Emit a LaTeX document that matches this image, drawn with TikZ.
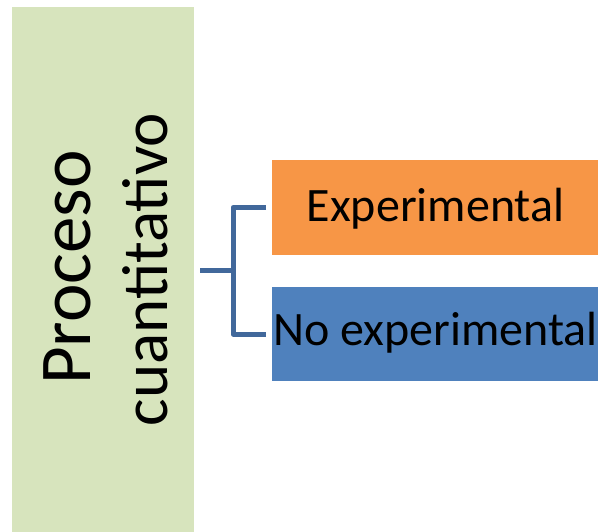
\documentclass[tikz,border=0pt]{standalone}
\usepackage{fontspec}
\setmainfont{Carlito}
\definecolor{gfill}{HTML}{D7E4BD}
\definecolor{ofill}{HTML}{F79646}
\definecolor{bfill}{HTML}{4F81BD}
\definecolor{brcol}{HTML}{41689B}
\tikzset{
  box/.style={draw=none, inner sep=0pt, outer sep=0pt},
  br/.style={draw=brcol, line width=5pt, line join=round},
  big/.style={font=\fontsize{48}{56}\selectfont, inner sep=0pt},
  vert/.style={font=\fontsize{73}{80}\selectfont, inner sep=0pt, rotate=90, anchor=base},
}
\begin{document}
\begin{tikzpicture}[x=1pt,y=-1pt]
\useasboundingbox (0,0) rectangle (600,532);
\node[box, fill=gfill, minimum width=182pt, minimum height=525pt] (green) at (103,269.5) {};
\node[vert] (p1) at (90,267.5) {Proceso};
\node[vert, font=\fontsize{65}{80}\selectfont] (p2) at (167,269.5) {cuantitativo};
\node[box, fill=ofill, minimum width=326pt, minimum height=95pt] (orange) at (435,207.5) {};
\node[box, fill=bfill, minimum width=326pt, minimum height=94pt] (blue) at (435,334) {};
\node[big, anchor=base] (t1) at (435.5,221) {Experimental};
\node[big, anchor=base] (t2) at (435.5,345) {No experimental};
\coordinate (j) at (233,270);
\draw[br] ([xshift=6pt]green.east |- j) -- (j);
\draw[br] ([xshift=-6pt]orange.west) -| (j) |- ([xshift=-6pt]blue.west);
\end{tikzpicture}
\end{document}
